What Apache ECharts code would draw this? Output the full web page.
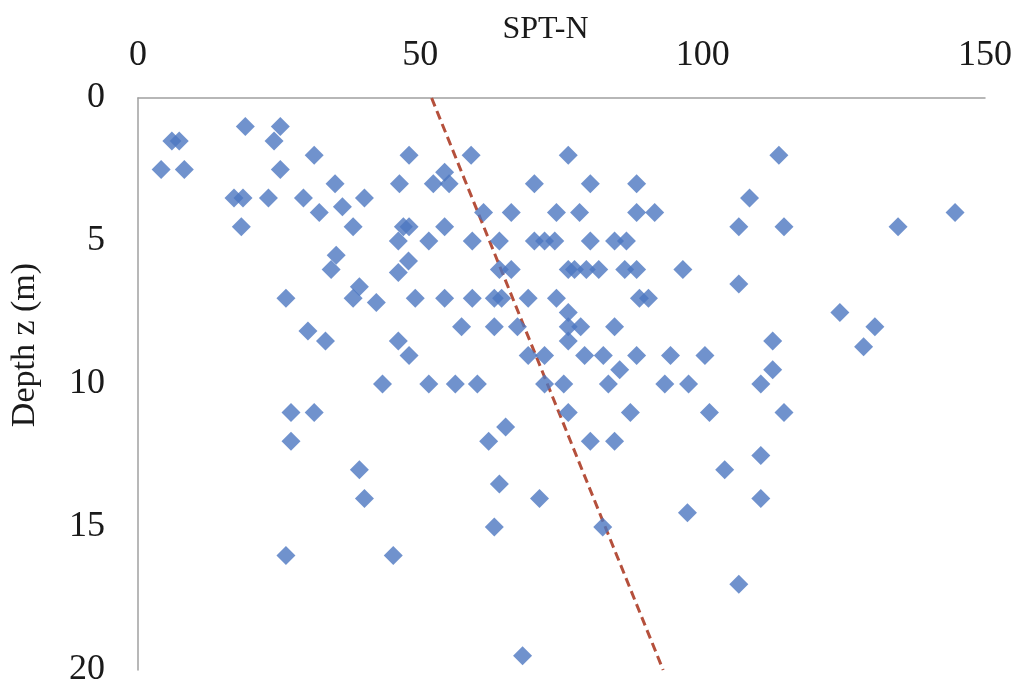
<!DOCTYPE html>
<html>
<head>
<meta charset="utf-8">
<script src="https://cdn.jsdelivr.net/npm/echarts@6/dist/echarts.min.js"></script>
<style>
  html, body { margin: 0; padding: 0; background: #fff; }
  #chart { width: 1020px; height: 689px; }
</style>
</head>
<body>
<div id="chart"></div>
<script>
// SPT-N values (x) and the depth they were measured at (y)
var sptN = [
  19, 25.2, 6, 7.3, 24.1, 4.1, 8.2, 25.2, 31.2, 48, 59, 76.2, 113.5, 54.3,
  34.9, 46.3, 52.3, 55.1, 70.2, 80.1, 88.3, 17, 18.6, 23.1, 29.3, 40.1, 108.3,
  36.2, 32.1, 61.2, 66.1, 74.1, 78.2, 88.3, 91.5, 144.7, 18.3, 38.1, 47, 48,
  54.3, 106.4, 114.4, 134.6, 46.1, 51.5, 59.2, 64, 70.2, 72, 73.8, 80.1, 84.4,
  86.5, 35.1, 47.9, 34.2, 46.1, 64, 66.1, 76.2, 77.3, 79.4, 81.6, 86.2, 88.3,
  96.5, 39.2, 106.4, 26.2, 38.1, 42.2, 49.1, 54.3, 59.2, 63.1, 64.4, 69.1,
  74.1, 88.8, 90.4, 76.2, 124.3, 57.3, 30.1, 63.1, 67.2, 76.2, 78.4, 84.4,
  130.5, 33.2, 46.1, 76.2, 112.4, 128.5, 48, 69.1, 72, 79.1, 82.4, 88.3, 94.3,
  100.4, 85.3, 112.4, 43.3, 51.5, 56.2, 60.1, 72, 75.4, 83.3, 93.3, 97.5,
  110.3, 27.1, 31.2, 76.2, 87.2, 101.2, 114.4, 65.1, 27.1, 62.1, 80.1, 84.4,
  110.3, 39.2, 103.9, 64, 40.1, 71.1, 110.3, 97.3, 63.1, 82.3, 26.2, 45.2,
  106.4, 68.1
];
var depth = [
  1, 1, 1.5, 1.5, 1.5, 2.5, 2.5, 2.5, 2, 2, 2, 2, 2, 2.6,
  3, 3, 3, 3, 3, 3, 3, 3.5, 3.5, 3.5, 3.5, 3.5, 3.5,
  3.8, 4, 4, 4, 4, 4, 4, 4, 4, 4.5, 4.5, 4.5, 4.5,
  4.5, 4.5, 4.5, 4.5, 5, 5, 5, 5, 5, 5, 5, 5, 5,
  5, 5.5, 5.7, 6, 6.1, 6, 6, 6, 6, 6, 6, 6, 6,
  6, 6.6, 6.5, 7, 7, 7.15, 7, 7, 7, 7, 7, 7,
  7, 7, 7, 7.5, 7.5, 8, 8.15, 8, 8, 8, 8, 8,
  8, 8.5, 8.5, 8.5, 8.5, 8.7, 9, 9, 9, 9, 9, 9, 9,
  9, 9.5, 9.5, 10, 10, 10, 10, 10, 10, 10, 10, 10,
  10, 11, 11, 11, 11, 11, 11, 11.5, 12, 12, 12, 12,
  12.5, 13, 13, 13.5, 14, 14, 14, 14.5, 15, 15, 16, 16,
  17, 19.5
];
// dashed trend line end points
var trendN = [52, 93];
var trendDepth = [0, 20];
var xTicks = [0, 50, 100, 150];
var yTicks = [0, 5, 10, 15, 20];

var points = sptN.map(function (n, i) { return [n, depth[i]]; });
var trend = trendN.map(function (n, i) { return [n, trendDepth[i]]; });

var serif = 'Times New Roman';

var chart = echarts.init(document.getElementById('chart'));
chart.setOption({
  backgroundColor: '#ffffff',
  animation: false,
  grid: { left: 137, top: 98, right: 35, bottom: 19 },
  xAxis: {
    type: 'value',
    position: 'top',
    min: xTicks[0],
    max: xTicks[xTicks.length - 1],
    interval: 50,
    name: 'SPT-N',
    nameLocation: 'middle',
    nameGap: 52,
    nameMoveOverlap: false,
    nameTextStyle: { fontFamily: serif, fontSize: 32, color: '#1a1a1a', padding: [0, 32, 0, 0] },
    axisLine: { show: true, onZero: false, lineStyle: { color: '#a0a0a0', width: 1.5 } },
    axisTick: { show: false },
    splitLine: { show: false },
    axisLabel: { fontFamily: serif, fontSize: 36, color: '#1a1a1a', margin: 24 }
  },
  yAxis: {
    type: 'value',
    inverse: true,
    min: yTicks[0],
    max: yTicks[yTicks.length - 1],
    interval: 5,
    name: 'Depth z (m)',
    nameLocation: 'middle',
    nameGap: 96,
    nameMoveOverlap: false,
    nameTextStyle: { fontFamily: serif, fontSize: 34, color: '#1a1a1a', padding: [0, 0, 0, 78] },
    axisLine: { show: true, onZero: false, lineStyle: { color: '#a0a0a0', width: 1.5 } },
    axisTick: { show: false },
    splitLine: { show: false },
    axisLabel: { fontFamily: serif, fontSize: 36, color: '#1a1a1a', margin: 33 }
  },
  series: [
    {
      type: 'scatter',
      data: points,
      symbol: 'diamond',
      symbolSize: 19,
      itemStyle: { color: '#4c77c0' },
      z: 3
    },
    {
      type: 'line',
      data: trend,
      symbol: 'none',
      lineStyle: { color: '#b5503c', width: 3, type: [9, 5] },
      z: 2
    }
  ]
});
</script>
</body>
</html>
